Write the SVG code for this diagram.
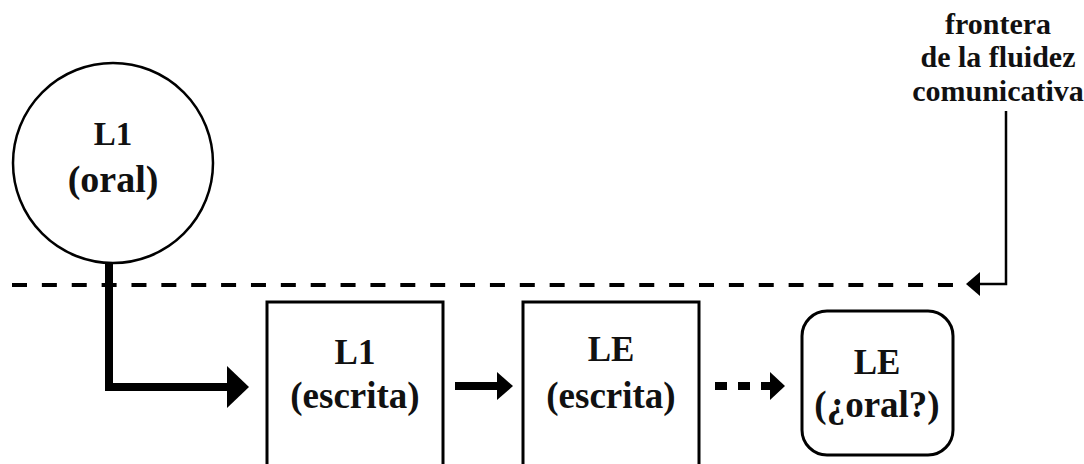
<svg xmlns="http://www.w3.org/2000/svg" width="1084" height="464" viewBox="0 0 1084 464">
<style>
  .node { fill: #fff; stroke: #000; stroke-width: 3; }
  .t { font-family: "Liberation Serif", "Times New Roman", serif; font-weight: bold; fill: #111; text-anchor: middle; }
  .big { font-size: 35px; }
  .mid { font-size: 37px; }
  .lab { font-size: 30px; }
</style>
<rect width="1084" height="464" fill="#fff"/>
<g id="connectors">
  <line x1="12" y1="285" x2="954" y2="285" stroke="#000" stroke-width="4" stroke-dasharray="15 14.87"/>
  <path d="M109 262 V387 H230" fill="none" stroke="#000" stroke-width="8"/>
  <polygon points="227,366 249,387 227,408" fill="#000"/>
  <line x1="455" y1="386" x2="499" y2="386" stroke="#000" stroke-width="8"/>
  <polygon points="497,372 513,386 497,400" fill="#000"/>
  <line x1="715" y1="386" x2="772" y2="386" stroke="#000" stroke-width="8" stroke-dasharray="12 11"/>
  <polygon points="770,372 785,386 770,400" fill="#000"/>
  <path d="M1006 111 V284 H978" fill="none" stroke="#000" stroke-width="2.5"/>
  <polygon points="966,284 980,272 980,296" fill="#000"/>
</g>
<g id="node-l1-oral">
  <circle cx="113" cy="163" r="100" fill="#fff" stroke="#000" stroke-width="2.5"/>
  <text class="t" x="113" y="145" font-size="33">L1</text>
  <text class="t" x="113" y="192" font-size="38">(oral)</text>
</g>
<g id="node-l1-escrita">
  <rect class="node" x="267" y="302" width="176" height="180"/>
  <text class="t big" x="355" y="364">L1</text>
  <text class="t mid" x="355" y="408">(escrita)</text>
</g>
<g id="node-le-escrita">
  <rect class="node" x="523" y="302" width="176" height="180"/>
  <text class="t big" x="611" y="361">LE</text>
  <text class="t mid" x="611" y="408">(escrita)</text>
</g>
<g id="node-le-oral">
  <rect class="node" x="802" y="311" width="151" height="144" rx="25" ry="25"/>
  <text class="t big" x="877" y="374">LE</text>
  <text class="t mid" x="877" y="417">(¿oral?)</text>
</g>
<g id="label-frontera">
  <text class="t lab" x="998" y="34">frontera</text>
  <text class="t lab" x="998" y="67">de la fluidez</text>
  <text class="t lab" x="998" y="101">comunicativa</text>
</g>
</svg>
